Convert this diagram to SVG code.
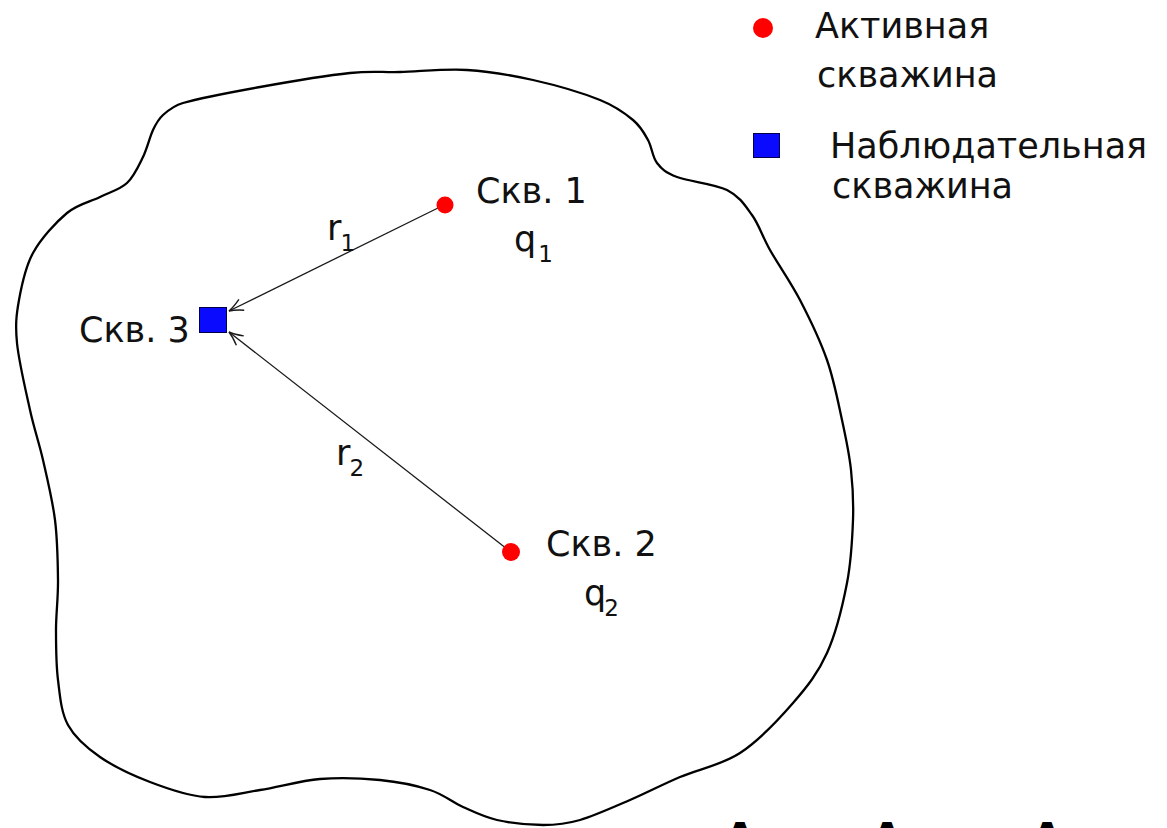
<svg xmlns="http://www.w3.org/2000/svg" width="1167" height="828" viewBox="0 0 1167 828">
<style>
.t{font-family:"DejaVu Sans","Liberation Sans",sans-serif;font-size:35px;fill:#111}
.s{font-size:23px}
.act{fill:#ff0000}
.obs{fill:#0a0aff;stroke:#00004a;stroke-width:1}
.conn{stroke:#1a1a1a;stroke-width:1.3;fill:none;marker-end:url(#ah)}
.f{font-family:"DejaVu Sans","Liberation Sans",sans-serif;font-size:40px;font-weight:bold;fill:#000;text-anchor:middle}
</style>
<defs>
<marker id="ah" markerUnits="userSpaceOnUse" markerWidth="20" markerHeight="16" viewBox="-16 -8 18 16" refX="0" refY="0" orient="auto">
<path d="M-14,-6 Q-6,-1.5 0,0 Q-6,1.5 -14,6" fill="none" stroke="#1a1a1a" stroke-width="1.4"/>
</marker>
</defs>
<rect width="1167" height="828" fill="#fff"/>
<g id="boundary">
<path d="M400,72 C419.5,71.5 444.8,68.7 467,70 C489.2,71.3 510.8,75 533,80 C555.2,85 583.3,93.3 600,100 C616.7,106.7 625,113.3 633,120 C641,126.7 644,132.8 648,140 C652,147.2 652.2,156.8 657,163 C661.8,169.2 665.3,172.5 677,177 C688.7,181.5 714.5,183.7 727,190 C739.5,196.3 744.8,205 752,215 C759.2,225 762,235.8 770,250 C778,264.2 790.5,281.7 800,300 C809.5,318.3 820,340 827,360 C834,380 838,401.7 842,420 C846,438.3 849.2,453.3 851,470 C852.8,486.7 853.7,501.2 853,520 C852.3,538.8 851.3,560.8 847,583 C842.7,605.2 836,633 827,653 C818,673 807.5,686.3 793,703 C778.5,719.7 758.8,740.7 740,753 C721.2,765.3 698.3,769.2 680,777 C661.7,784.8 646.7,792.8 630,800 C613.3,807.2 594.5,815.8 580,820 C565.5,824.2 556.8,825 543,825 C529.2,825 510.3,823 497,820 C483.7,817 474.2,812 463,807 C451.8,802 443.8,794.5 430,790 C416.2,785.5 398.3,781.8 380,780 C361.7,778.2 340,777.3 320,779 C300,780.7 279.2,787 260,790 C240.8,793 223.3,798.3 205,797 C186.7,795.7 167.5,788.7 150,782 C132.5,775.3 113.7,766.5 100,757 C86.3,747.5 75,737.8 68,725 C61,712.2 60,695.8 58,680 C56,664.2 56,646.7 56,630 C56,613.3 58.2,598.3 58,580 C57.8,561.7 57.5,540 55,520 C52.5,500 47.2,478.3 43,460 C38.8,441.7 34.3,429.5 30,410 C25.7,390.5 18.8,361.3 17,343 C15.2,324.7 16.3,315 19,300 C21.7,285 25,267.5 33,253 C41,238.5 55.8,222.3 67,213 C78.2,203.7 90,202 100,197 C110,192 119.8,189.7 127,183 C134.2,176.3 138.7,165.8 143,157 C147.3,148.2 149.7,137 153,130 C156.3,123 158,119.5 163,115 C168,110.5 176,105 183,103 C199.2,98.3 232.2,92 260,87 C287.8,82 326.7,75.5 350,73 C373.3,70.5 380.5,72.5 400,72 Z" fill="none" stroke="#000" stroke-width="2.3"/>
</g>
<g id="connectors">
<line class="conn" x1="440" y1="207" x2="229" y2="311"/>
<line class="conn" x1="507" y1="549" x2="229" y2="332"/>
<text class="t" x="327" y="240">r<tspan class="s" dx="-1" dy="11">1</tspan></text>
<text class="t" x="336" y="465">r<tspan class="s" dx="-1" dy="11">2</tspan></text>
</g>
<g id="well1">
<circle class="act" cx="445" cy="205" r="8.5"/>
<text class="t" x="476" y="203">Скв. 1</text>
<text class="t" x="514" y="251">q<tspan class="s" dx="2" dy="11">1</tspan></text>
</g>
<g id="well2">
<circle class="act" cx="511" cy="552" r="9"/>
<text class="t" x="546" y="556">Скв. 2</text>
<text class="t" x="584" y="605">q<tspan class="s" dx="-2" dy="11">2</tspan></text>
</g>
<g id="well3">
<rect class="obs" x="199.5" y="307.5" width="27" height="25"/>
<text class="t" x="79" y="342">Скв. 3</text>
</g>
<g id="legend">
<circle class="act" cx="763" cy="28" r="10"/>
<text class="t" x="815" y="38">Активная</text>
<text class="t" x="817" y="87">скважина</text>
<rect class="obs" x="753.5" y="133.5" width="26" height="24"/>
<text class="t" x="830" y="158">Наблюдательная</text>
<text class="t" x="832" y="198">скважина</text>
</g>
<g id="formula">
<text class="f" x="740" y="852">Δ</text>
<text class="f" x="887" y="852">Δ</text>
<text class="f" x="1002" y="857">+</text>
<text class="f" x="1047" y="852">Δ</text>
</g>
</svg>
